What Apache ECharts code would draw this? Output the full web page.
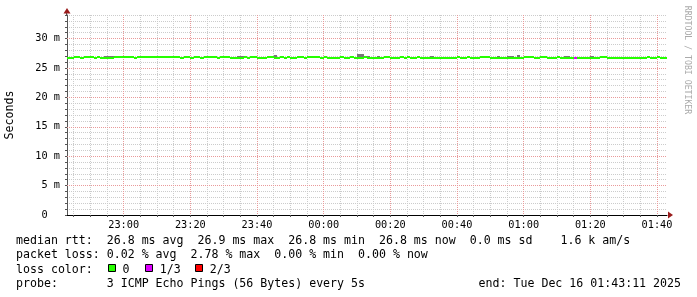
<!DOCTYPE html>
<html><head><meta charset="utf-8">
<script src="https://cdn.jsdelivr.net/npm/echarts@6/dist/echarts.min.js"></script>
<style>html,body{margin:0;padding:0;background:#fff}#c{width:697px;height:297px}</style>
</head><body><div id="c"></div>
<script>
// ---------------- data ----------------
const START_MINUTE = 22 * 60 + 43;   // window start 22:43(:11)
const MINUTES = 180;                 // 3 hour window, 1 minute steps

// median rtt per minute (ms)
const median = [
  26.7,26.7,26.9,26.9,26.7,26.9,26.9,26.9,26.7,26.9,
  26.7,26.7,26.7,26.7,26.9,26.9,26.9,26.9,26.9,26.9,
  26.7,26.9,26.9,26.9,26.9,26.9,26.9,26.9,26.9,26.9,
  26.9,26.9,26.9,26.9,26.7,26.9,26.9,26.7,26.9,26.9,
  26.7,26.9,26.9,26.9,26.9,26.7,26.9,26.9,26.9,26.7,
  26.7,26.7,26.7,26.9,26.7,26.9,26.9,26.7,26.7,26.7,
  26.9,26.9,26.7,26.7,26.9,26.7,26.9,26.7,26.7,26.9,
  26.9,26.7,26.9,26.9,26.9,26.9,26.7,26.9,26.7,26.7,
  26.7,26.7,26.9,26.7,26.7,26.9,26.7,26.7,26.7,26.9,
  26.7,26.7,26.7,26.7,26.7,26.9,26.9,26.7,26.7,26.7,
  26.9,26.7,26.9,26.7,26.7,26.9,26.7,26.7,26.7,26.7,
  26.7,26.7,26.7,26.7,26.7,26.7,26.7,26.9,26.7,26.7,
  26.9,26.7,26.7,26.7,26.9,26.9,26.9,26.7,26.7,26.7,
  26.7,26.7,26.7,26.7,26.7,26.7,26.7,26.9,26.9,26.9,
  26.7,26.7,26.9,26.9,26.7,26.7,26.7,26.9,26.7,26.7,
  26.7,26.7,26.7,26.7,26.7,26.7,26.7,26.7,26.7,26.7,
  26.9,26.9,26.7,26.7,26.7,26.7,26.7,26.7,26.7,26.7,
  26.7,26.7,26.7,26.7,26.9,26.7,26.7,26.9,26.7,26.7
];

// top of the smoke per minute (ms); null = smoke hidden under the median line
const smokeTop = [
  null,null,null,null,null,null,null,null,null,null,
  null,27.05,27.05,27.05,null,null,null,null,null,null,
  null,null,null,null,null,null,null,null,null,null,
  null,null,null,null,null,null,null,null,null,null,
  null,null,null,null,null,null,null,null,null,null,
  null,27.05,27.05,null,null,null,null,null,null,null,
  null,null,27.25,null,null,null,null,null,null,null,
  null,null,null,null,null,null,null,null,null,null,
  null,null,null,null,null,null,null,27.4,27.4,null,
  27.05,null,null,27.05,null,null,null,null,null,null,
  null,null,null,null,null,null,null,null,null,27.05,
  null,null,null,null,null,null,null,null,null,null,
  null,null,null,null,null,null,null,null,null,27.05,
  null,null,27.05,27.05,null,27.25,null,null,null,null,
  null,null,null,null,null,null,null,null,null,27.05,
  27.05,null,null,null,null,null,null,27.05,null,null,
  null,null,null,null,null,null,null,null,null,null,
  null,null,null,null,null,null,null,null,null,null
];

// packet loss per minute (%)
const lossPercent = [
  0,0,0,0,0,0,0,0,0,0, 0,0,0,0,0,0,0,0,0,0,
  0,0,0,0,0,0,0,0,0,0, 0,0,0,0,0,0,0,0,0,0,
  0,0,0,0,0,0,0,0,0,0, 0,0,0,0,0,0,0,0,0,0,
  0,0,0,0,0,0,0,0,0,0, 0,0,0,0,0,0,0,0,0,0,
  0,0,0,0,0,0,0,0,0,0, 0,0,0,0,0,0,0,0,0,0,
  0,0,0,0,0,0,0,0,0,0, 0,0,0,0,0,0,0,0,0,0,
  0,0,0,0,0,0,0,0,0,0, 0,0,0,0,0,0,0,0,0,0,
  0,0,0,0,0,0,0,0,0,0, 0,0,2.78,0,0,0,0,0,0,0,
  0,0,0,0,0,0,0,0,0,0, 0,0,0,0,0,0,0,0,0,0
];

const yTickLabels = ['0  ', '5 m', '10 m', '15 m', '20 m', '25 m', '30 m'];
const yMajorValues = [0, 5, 10, 15, 20, 25, 30];
const xMajorLabels = ['23:00','23:20','23:40','00:00','00:20','00:40','01:00','01:20','01:40'];

const lossLegend = [
  { label: '0',   color: '#26ff00' },
  { label: '1/3', color: '#dd00ff' },
  { label: '2/3', color: '#ff0000' }
];
const legendRows = [
  'median rtt:  26.8 ms avg  26.9 ms max  26.8 ms min  26.8 ms now  0.0 ms sd    1.6 k am/s',
  'packet loss: 0.02 % avg  2.78 % max  0.00 % min  0.00 % now',
  'loss color:',
  'probe:       3 ICMP Echo Pings (56 Bytes) every 5s'
];
const endText = 'end: Tue Dec 16 01:43:11 2025';
const yTitle = 'Seconds';
const watermark = 'RRDTOOL / TOBI OETIKER';

// ---------------- layout / style ----------------
const MONO = '"DejaVu Sans Mono", "Liberation Mono", monospace';
const G = { left: 67, right: 30, top: 15, bottom: 82 };
const W = 697, H = 297;
const MINOR = '#cccccc', MAJOR = '#e99a9a', ARROW = '#9a1c1c';

function fmt(m) {
  m = ((m % 1440) + 1440) % 1440;
  return String(Math.floor(m / 60)).padStart(2, '0') + ':' + String(m % 60).padStart(2, '0');
}
const minuteCats = Array.from({ length: MINUTES }, (_, k) => fmt(START_MINUTE + k));
const boundaryCats = Array.from({ length: MINUTES + 1 }, (_, k) => fmt(START_MINUTE + k));
const isMajor = (i, v) => xMajorLabels.indexOf(v) >= 0;
const isMinor = (i, v) => parseInt(v.slice(3), 10) % 5 === 0 && !isMajor(i, v);

function lossColor(p) {
  if (p <= 0) return lossLegend[0].color;
  if (p < 50) return lossLegend[1].color;
  return lossLegend[2].color;
}

const seriesData = median.map((m, i) => [i, m, lossPercent[i], smokeTop[i] == null ? NaN : smokeTop[i]]);

function bandX(api, i) {
  const c = api.coord([i, 0]);
  const w = api.size([1, 0])[0];
  return [Math.round(c[0] - w / 2), Math.round(c[0] + w / 2)];
}

const chart = echarts.init(document.getElementById('c'), null, { renderer: 'canvas', devicePixelRatio: 1 });

const graphics = [];
graphics.push({ type: 'text', x: 10, y: (G.top + (H - G.bottom)) / 2, rotation: Math.PI / 2,
  style: { text: yTitle, font: '11.6px ' + MONO, fill: '#000', align: 'center', verticalAlign: 'middle' } });
graphics.push({ type: 'text', x: 687, y: 60, rotation: -Math.PI / 2,
  style: { text: watermark, font: '8.2px ' + MONO, fill: '#aaaaaa', align: 'center', verticalAlign: 'middle' } });
const x0 = G.left, yb = H - G.bottom, xr = W - G.right;
graphics.push({ type: 'line', shape: { x1: x0 - 0.5, y1: G.top - 3, x2: x0 - 0.5, y2: G.top }, style: { stroke: '#555', lineWidth: 1 } });
graphics.push({ type: 'polygon', shape: { points: [[x0, G.top - 7], [x0 - 3.5, G.top - 1.5], [x0 + 3.5, G.top - 1.5]] }, style: { fill: ARROW } });
graphics.push({ type: 'polygon', shape: { points: [[xr + 6, yb], [xr + 1, yb - 3.5], [xr + 1, yb + 3.5]] }, style: { fill: ARROW } });
const rowY = [241, 255.3, 269.6, 284];
legendRows.forEach((t, k) => {
  graphics.push({ type: 'text', x: 16, y: rowY[k],
    style: { text: t, font: '11.6px ' + MONO, fill: '#000', align: 'left', verticalAlign: 'middle' } });
});
const boxX = [108.5, 145.5, 195.5];
const labX = [122.5, 159.8, 209.8];
lossLegend.forEach((e, k) => {
  graphics.push({ type: 'rect', shape: { x: boxX[k], y: 264.5, width: 7, height: 7 },
    style: { fill: e.color, stroke: '#000', lineWidth: 1 } });
  graphics.push({ type: 'text', x: labX[k], y: rowY[2],
    style: { text: e.label, font: '11.6px ' + MONO, fill: '#000', align: 'left', verticalAlign: 'middle' } });
});
graphics.push({ type: 'text', x: 681, y: rowY[3],
  style: { text: endText, font: '11.6px ' + MONO, fill: '#000', align: 'right', verticalAlign: 'middle' } });

const dotted = c => ({ color: c, width: 1, type: [1, 1], opacity: 1 });

const option = {
  animation: false,
  backgroundColor: '#fff',
  grid: { left: G.left, right: G.right, top: G.top, bottom: G.bottom, containLabel: false },
  xAxis: [
    { type: 'category', data: minuteCats, boundaryGap: true, show: false },
    { type: 'category', data: boundaryCats, boundaryGap: false, position: 'bottom',
      axisLine: { show: true, lineStyle: { color: '#000', width: 1 } },
      axisTick: { show: true, interval: (i, v) => isMinor(i, v) || isMajor(i, v), length: 2, lineStyle: { color: '#555' } },
      axisLabel: { show: false },
      splitLine: { show: true, interval: isMinor, lineStyle: dotted(MINOR) } },
    { type: 'category', data: boundaryCats, boundaryGap: false, position: 'bottom',
      axisLine: { show: false }, axisTick: { show: false },
      axisLabel: { show: true, interval: isMajor, margin: 5, color: '#000', fontFamily: MONO, fontSize: 10.25 },
      splitLine: { show: true, interval: isMajor, lineStyle: dotted(MAJOR) } }
  ],
  yAxis: [
    { type: 'value', position: 'left', min: 0, max: 34, interval: 1,
      axisLine: { show: true, lineStyle: { color: '#555', width: 1 } },
      axisTick: { show: true, length: 2, lineStyle: { color: '#555' } },
      axisLabel: { show: false },
      splitLine: { show: true, lineStyle: dotted(MINOR) } },
    { type: 'value', position: 'left', offset: 0, min: 0, max: 34, interval: 5,
      axisLine: { show: false }, axisTick: { show: false }, splitLine: { show: false },
      axisLabel: { show: true, showMaxLabel: false, margin: 7, color: '#000', fontFamily: MONO, fontSize: 10.25,
        formatter: v => yTickLabels[yMajorValues.indexOf(v)] || '' } }
  ],
  series: [
    { type: 'custom', name: 'smoke', xAxisIndex: 0, yAxisIndex: 0, data: seriesData, encode: { x: 0, y: 1 }, z: 3,
      renderItem: (params, api) => {
        const top = api.value(3);
        if (isNaN(top)) return null;
        const i = api.value(0);
        const bx = bandX(api, i);
        const yTop = Math.round(api.coord([i, top])[1]);
        const yLine = Math.round(api.coord([i, api.value(1)])[1] - 1);
        if (yLine <= yTop) return null;
        return { type: 'rect', shape: { x: bx[0], y: yTop, width: bx[1] - bx[0], height: yLine - yTop }, style: { fill: '#777' } };
      } },
    { type: 'custom', name: 'median', xAxisIndex: 0, yAxisIndex: 0, data: seriesData, encode: { x: 0, y: 1 }, z: 4,
      renderItem: (params, api) => {
        const i = api.value(0);
        const bx = bandX(api, i);
        const y = Math.round(api.coord([i, api.value(1)])[1] - 1);
        return { type: 'rect', shape: { x: bx[0], y: y, width: bx[1] - bx[0], height: 2 }, style: { fill: lossColor(api.value(2)) } };
      } },
    { type: 'line', name: 'majorGrid', xAxisIndex: 0, yAxisIndex: 0, data: [], silent: true, z: 1,
      markLine: { silent: true, symbol: 'none', label: { show: false }, animation: false,
        lineStyle: dotted(MAJOR), emphasis: { disabled: true },
        data: yMajorValues.filter(v => v > 0).map(v => ({ yAxis: v })) } }
  ],
  graphic: graphics
};
chart.setOption(option);
</script>
</body></html>
